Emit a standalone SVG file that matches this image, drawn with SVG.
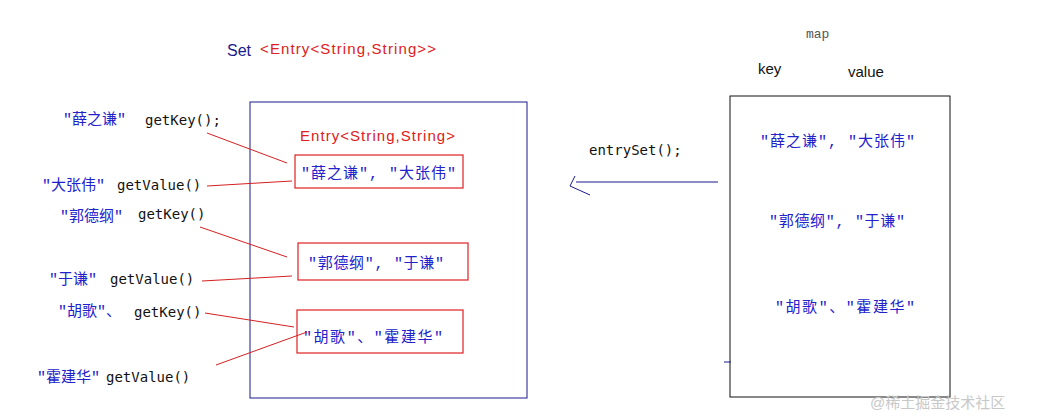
<svg xmlns="http://www.w3.org/2000/svg" width="1040" height="418" viewBox="0 0 1040 418">
<style>
.b{fill:#2222cc;font-family:"Liberation Mono","Noto Sans CJK SC",monospace;font-size:15px}
.k{fill:#111;font-family:"DejaVu Sans Mono","Liberation Mono",monospace;font-size:14px}
.r{fill:#e02020;font-family:"Liberation Sans",sans-serif;font-size:15px}
.s{fill:#111;font-family:"Liberation Sans",sans-serif;font-size:15px}
.box{fill:none;stroke:#e02020;stroke-width:1.2}
.frame{fill:none;stroke:#1a1a8a;stroke-width:1}
.ln{stroke:#d42020;stroke-width:1;fill:none}
</style>
<rect width="1040" height="418" fill="#fff"/>
<g id="title"><text x="227" y="56" font-family="Liberation Sans,sans-serif" font-size="16" fill="#1a1a8a">Set</text><text x="260" y="54" class="r" textLength="176">&lt;Entry&lt;String,String&gt;&gt;</text></g>
<g id="set"><rect class="frame" x="250" y="102" width="277" height="296"/><text x="300" y="141" class="r" textLength="155">Entry&lt;String,String&gt;</text></g>
<g id="e1"><rect class="box" x="295" y="155" width="168" height="33"/><text x="301" y="178" class="b" textLength="155">"薛之谦", "大张伟"</text></g>
<g id="e2"><rect class="box" x="298" y="243" width="170" height="37"/><text x="308" y="268" class="b" textLength="136">"郭德纲", "于谦"</text></g>
<g id="e3"><rect class="box" x="297" y="310" width="166" height="43"/><text x="303" y="342" class="b" textLength="140">"胡歌"、"霍建华"</text></g>
<g id="l1"><text x="63" y="124" class="b">"薛之谦"</text><text x="145" y="125" class="k">getKey();</text></g>
<g id="l2"><text x="42" y="190" class="b">"大张伟"</text><text x="117" y="190" class="k">getValue()</text></g>
<g id="l3"><text x="60" y="221" class="b" font-size="13">"郭德纲"</text><text x="138" y="219" class="k">getKey()</text></g>
<g id="l4"><text x="49" y="284" class="b">"于谦"</text><text x="110" y="284" class="k">getValue()</text></g>
<g id="l5"><text x="58" y="316" class="b">"胡歌"、</text><text x="134" y="317" class="k">getKey()</text></g>
<g id="l6"><text x="37" y="382" class="b">"霍建华"</text><text x="106" y="382" class="k">getValue()</text></g>
<g id="map"><text x="806" y="38" font-family="Liberation Mono,monospace" font-size="13" fill="#555">map</text><text x="758" y="74" class="s">key</text><text x="848" y="77" class="s">value</text>
<rect x="730" y="96" width="220" height="301" fill="none" stroke="#111" stroke-width="1"/>
<text x="760" y="146" class="b" textLength="155">"薛之谦", "大张伟"</text><text x="769" y="226" class="b" textLength="136">"郭德纲", "于谦"</text><text x="775" y="312" class="b" textLength="140">"胡歌"、"霍建华"</text></g>
<text x="589" y="155" class="k">entrySet();</text>
<g id="connectors">
<path class="ln" d="M207 133L287 163M207 186L292 181M200 227L287 257M202 281L292 276M205 313L294 327M216 365L307 332"/>
<path d="M718 182H576M575 176L570 186L590 195" stroke="#1a1a8a" fill="none" stroke-width="1"/>
<path d="M724 362H731" stroke="#1a1a8a"/>
</g>
<text x="870" y="408" font-family="Liberation Sans,Noto Sans CJK SC,sans-serif" font-size="15" fill="#c8c8c8">@稀土掘金技术社区</text>
</svg>
